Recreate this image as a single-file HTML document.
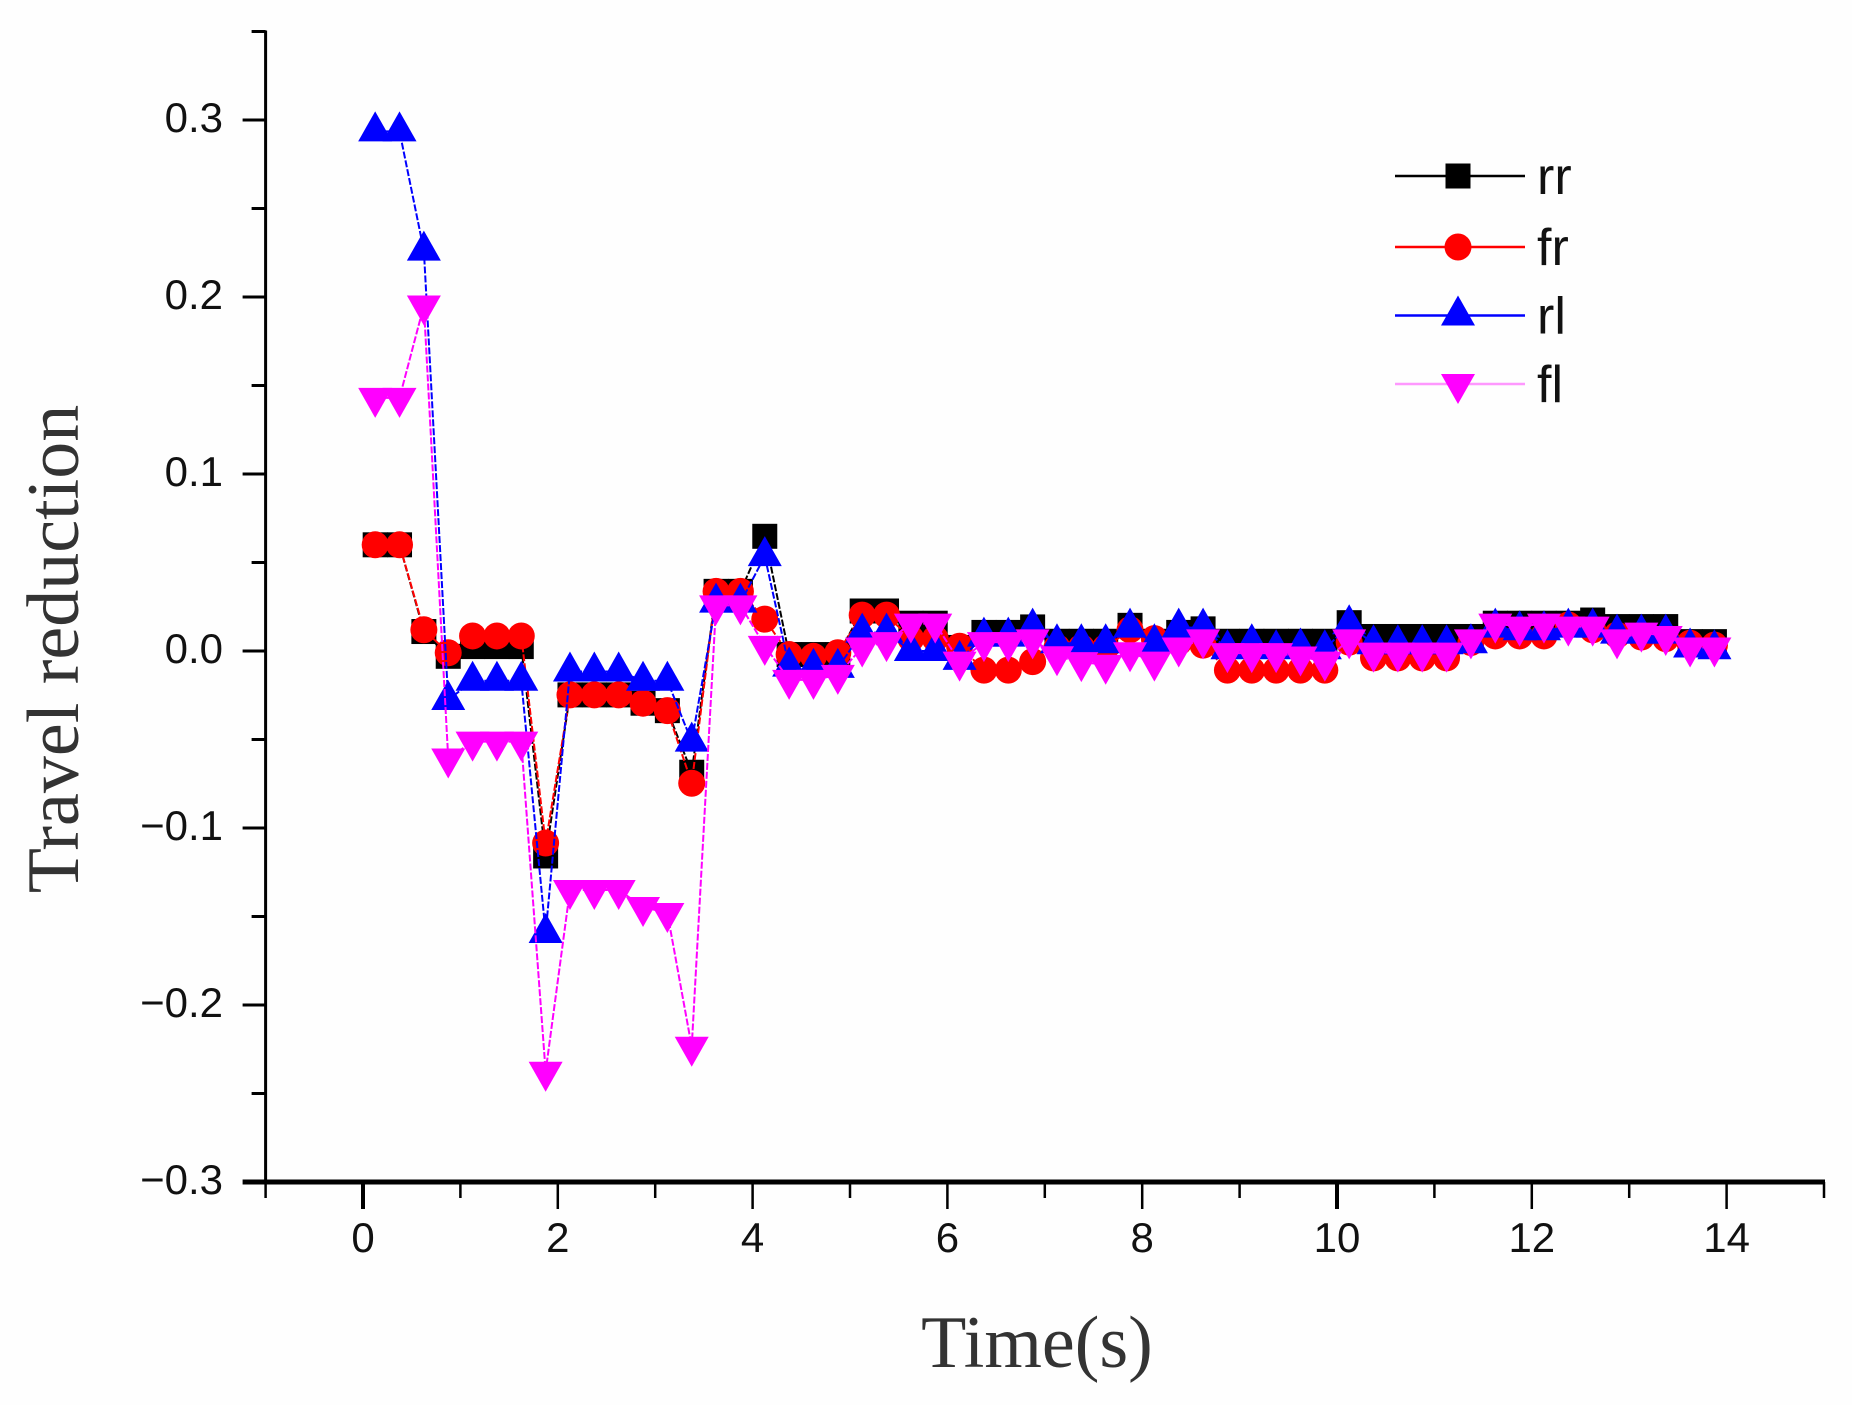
<!DOCTYPE html>
<html lang="en">
<head>
<meta charset="utf-8">
<title>Travel reduction over time</title>
<style>
  html, body { margin: 0; padding: 0; background: #fefefe; }
  #chart { display: block; width: 1852px; height: 1405px; }
  .tick-label { font-family: "Liberation Sans", sans-serif; font-size: 42px; fill: #111; }
  .legend-label { font-family: "Liberation Sans", sans-serif; font-size: 52px; fill: #111; }
  .axis-title { font-family: "Liberation Serif", serif; font-size: 74px; fill: #333; }
</style>
</head>
<body>
<svg id="chart" xmlns="http://www.w3.org/2000/svg" width="1852" height="1405" viewBox="0 0 1852 1405">
  <rect x="0" y="0" width="1852" height="1405" fill="#fefefe"/>
  <g id="series"></g>
  <g id="axes"></g>
  <text class="axis-title" transform="translate(78,649) rotate(-90)" text-anchor="middle">Travel reduction</text>
  <text class="axis-title" x="1037" y="1367" text-anchor="middle">Time(s)</text>
  <g id="legend"></g>
</svg>
<script>
const times = [0.125,0.375,0.625,0.875,1.125,1.375,1.625,1.875,2.125,2.375,2.625,2.875,3.125,3.375,3.625,3.875,4.125,4.375,4.625,4.875,5.125,5.375,5.625,5.875,6.125,6.375,6.625,6.875,7.125,7.375,7.625,7.875,8.125,8.375,8.625,8.875,9.125,9.375,9.625,9.875,10.125,10.375,10.625,10.875,11.125,11.375,11.625,11.875,12.125,12.375,12.625,12.875,13.125,13.375,13.625,13.875];
const rrValues = [0.06,0.06,0.011,-0.003,0.0025,0.0025,0.0025,-0.1158,-0.0248,-0.0248,-0.0248,-0.0295,-0.0337,-0.0685,0.0337,0.0337,0.0648,-0.002,-0.002,-0.002,0.0226,0.0226,0.0157,0.0157,0.002,0.0105,0.0105,0.0136,0.0055,0.0055,0.0055,0.0145,0.0055,0.0105,0.0125,0.0055,0.0055,0.0055,0.0055,0.0055,0.016,0.0082,0.0082,0.0082,0.0082,0.0082,0.0157,0.0157,0.0157,0.0157,0.0175,0.0138,0.0138,0.0138,0.0053,0.0053];
const frValues = [0.06,0.06,0.012,-0.001,0.0085,0.0085,0.0085,-0.1085,-0.0248,-0.0248,-0.0248,-0.0295,-0.0337,-0.0747,0.0337,0.0337,0.018,-0.002,-0.003,-0.001,0.0203,0.0203,0.007,0.007,0.0027,-0.0108,-0.0108,-0.006,0.002,0.002,0.002,0.012,0.007,0.005,0.0033,-0.0108,-0.0108,-0.0108,-0.0108,-0.0108,0.005,-0.0039,-0.0039,-0.0039,-0.0039,0.0048,0.0085,0.0085,0.0085,0.0147,0.012,0.009,0.0079,0.007,0.0044,0.0033];
const rlValues = [0.2936,0.2936,0.2262,-0.0277,-0.0168,-0.0168,-0.0168,-0.1593,-0.0116,-0.0116,-0.0116,-0.0168,-0.0168,-0.0512,0.0273,0.0273,0.0536,-0.0088,-0.0095,-0.0095,0.0104,0.0104,0,0,-0.005,0.0081,0.0081,0.0132,0.0044,0.0044,0.0044,0.0132,0.0044,0.0132,0.0132,0.001,0.0044,0.001,0.002,0.001,0.0151,0.0038,0.0038,0.0038,0.0038,0.0044,0.0132,0.0117,0.0117,0.0132,0.0132,0.0098,0.0098,0.0098,0.002,0.001];
const flValues = [0.143,0.143,0.1952,-0.0607,-0.0512,-0.0512,-0.0512,-0.2377,-0.135,-0.135,-0.135,-0.1446,-0.148,-0.2236,0.0258,0.0258,0.0029,-0.0163,-0.0163,-0.0135,0.002,0.005,0.0155,0.0155,-0.006,0.005,0.005,0.0066,-0.003,-0.0063,-0.0078,-0.0007,-0.006,0.002,0.0066,-0.0012,-0.0012,-0.0012,-0.0031,-0.006,0.0066,-0.0009,-0.0009,-0.0009,-0.0009,0.0066,0.0155,0.0138,0.0155,0.0138,0.0138,0.0066,0.0104,0.0085,0.002,0.002];
const seriesNames = ["rr","fr","rl","fl"];
const xTickLabels = [0,2,4,6,8,10,12,14];
const xMinorTicks = [-1,1,3,5,7,9,11,13,15];
const yTickLabels = [0.3,0.2,0.1,0,-0.1,-0.2,-0.3];
const yMinorTicks = [0.35,0.25,0.15,0.05,-0.05,-0.15,-0.25];

const NS = "http://www.w3.org/2000/svg";
const xScale = function (t) { return 363 + 97.4 * t; };
const yScale = function (v) { return 651 - 1770 * v; };

function make(tag, parent) {
  const el = document.createElementNS(NS, tag);
  parent.appendChild(el);
  return el;
}

function drawMarker(parent, kind, cx, cy, color) {
  let el;
  if (kind === "rr") {
    el = make("rect", parent);
    el.setAttribute("x", cx - 12.5);
    el.setAttribute("y", cy - 12.5);
    el.setAttribute("width", 25);
    el.setAttribute("height", 25);
  } else if (kind === "fr") {
    el = make("circle", parent);
    el.setAttribute("cx", cx);
    el.setAttribute("cy", cy);
    el.setAttribute("r", 13.5);
  } else if (kind === "rl") {
    el = make("polygon", parent);
    el.setAttribute("points", cx + "," + (cy - 20) + " " + (cx + 17) + "," + (cy + 10) + " " + (cx - 17) + "," + (cy + 10));
  } else {
    el = make("polygon", parent);
    el.setAttribute("points", cx + "," + (cy + 20) + " " + (cx + 17) + "," + (cy - 10) + " " + (cx - 17) + "," + (cy - 10));
  }
  el.setAttribute("fill", color);
  
  
  return el;
}

const seriesLayer = document.getElementById("series");
const seriesColors = { rr: "#000000", fr: "#ff0000", rl: "#0000ff", fl: "#ff00ff" };
const seriesData = { rr: rrValues, fr: frValues, rl: rlValues, fl: flValues };

seriesNames.forEach(function (name) {
  const group = make("g", seriesLayer);
  
  
  const values = seriesData[name];
  const line = make("polyline", group);
  line.setAttribute("points", values.map(function (v, i) { return xScale(times[i]) + "," + yScale(v); }).join(" "));
  line.setAttribute("fill", "none");
  line.setAttribute("stroke", seriesColors[name]);
  line.setAttribute("stroke-width", 2);
  line.setAttribute("stroke-dasharray", "7 2");
  
  
  values.forEach(function (v, i) {
    drawMarker(group, name, xScale(times[i]), yScale(v), seriesColors[name]);
  });
});

const axesLayer = document.getElementById("axes");

function drawSegment(x1, y1, x2, y2, width, name) {
  const el = make("line", axesLayer);
  el.setAttribute("x1", x1);
  el.setAttribute("y1", y1);
  el.setAttribute("x2", x2);
  el.setAttribute("y2", y2);
  el.setAttribute("stroke", "#000");
  el.setAttribute("stroke-width", width);
  
  
}

const xAxisY = yScale(-0.3);
const yAxisX = xScale(-1);
drawSegment(yAxisX, yScale(0.35) - 1, yAxisX, xAxisY, 3, "y-axis-line");
drawSegment(yAxisX - 23, xAxisY, xScale(15) + 1, xAxisY, 5, "x-axis-line");

xTickLabels.forEach(function (t) {
  const w = (t === 0 || t === 10) ? 4 : 2.5;
  drawSegment(xScale(t), xAxisY, xScale(t), xAxisY + 27, w, "x-major-tick");
  const label = make("text", axesLayer);
  label.setAttribute("class", "tick-label");
  label.setAttribute("x", xScale(t));
  label.setAttribute("y", 1252);
  label.setAttribute("text-anchor", "middle");
  
  
  label.textContent = String(t);
});
xMinorTicks.forEach(function (t) {
  drawSegment(xScale(t), xAxisY, xScale(t), xAxisY + 16, 2.5, "x-minor-tick");
});
yTickLabels.forEach(function (v) {
  if (v !== -0.3) {
    drawSegment(yAxisX - 23, yScale(v), yAxisX, yScale(v), 3, "y-major-tick");
  }
  const label = make("text", axesLayer);
  label.setAttribute("class", "tick-label");
  label.setAttribute("x", 223);
  label.setAttribute("y", yScale(v) + 12);
  label.setAttribute("text-anchor", "end");
  
  
  label.textContent = (v < 0 ? "\u2212" : "") + Math.abs(v).toFixed(1);
});
yMinorTicks.forEach(function (v) {
  drawSegment(yAxisX - 14, yScale(v), yAxisX, yScale(v), 3, "y-minor-tick");
});

const legend = document.getElementById("legend");
const legendRowY = [176, 247, 315.5, 384];
seriesNames.forEach(function (name, i) {
  const row = make("g", legend);
  
  
  const sample = make("line", row);
  sample.setAttribute("x1", 1395);
  sample.setAttribute("x2", 1525);
  sample.setAttribute("y1", legendRowY[i]);
  sample.setAttribute("y2", legendRowY[i]);
  sample.setAttribute("stroke", seriesColors[name]);
  sample.setAttribute("stroke-width", 2.5);
  sample.setAttribute("stroke-opacity", name === "fl" ? 0.4 : 1);
  
  
  drawMarker(row, name, 1458, legendRowY[i], seriesColors[name]);
  const label = make("text", row);
  label.setAttribute("class", "legend-label");
  label.setAttribute("x", 1537);
  label.setAttribute("y", legendRowY[i] + 18);
  
  
  label.textContent = name;
});
</script>
</body>
</html>
